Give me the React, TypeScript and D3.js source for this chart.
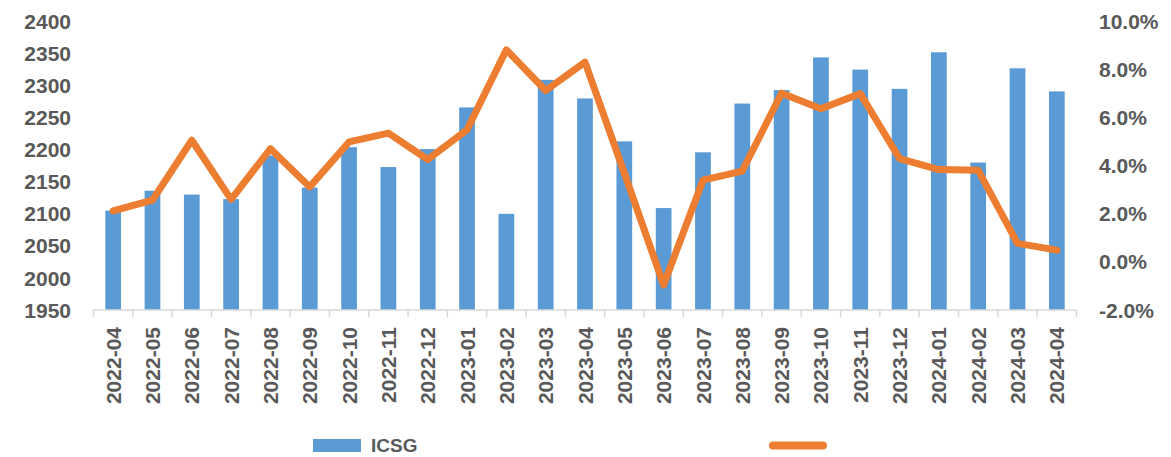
import React from "react";
import * as d3 from "d3";

const categories = [
  "2022-04","2022-05","2022-06","2022-07","2022-08","2022-09","2022-10","2022-11","2022-12",
  "2023-01","2023-02","2023-03","2023-04","2023-05","2023-06","2023-07","2023-08","2023-09",
  "2023-10","2023-11","2023-12","2024-01","2024-02","2024-03","2024-04",
];
const icsgValues = [
  2105, 2136, 2130, 2123, 2191, 2141, 2204, 2173, 2201,
  2266, 2100, 2309, 2280, 2213, 2109, 2196, 2272, 2293,
  2344, 2325, 2295, 2352, 2180, 2327, 2291,
];
const growthValues = [
  2.12, 2.57, 5.06, 2.6, 4.71, 3.12, 4.99, 5.36, 4.26,
  5.5, 8.82, 7.13, 8.31, 3.7, -0.96, 3.4, 3.78, 7.02,
  6.37, 7.0, 4.3, 3.84, 3.81, 0.77, 0.49,
];
const leftTicks = [1950, 2000, 2050, 2100, 2150, 2200, 2250, 2300, 2350, 2400];
const rightTicks = [-2, 0, 2, 4, 6, 8, 10];
const barLegendLabel = "ICSG";
const lineLegendLabel = "";

const W = 1171;
const H = 457;
const FONT = "'Liberation Sans', Arial, sans-serif";
const TEXT = "#595959";
const BLUE = "#5B9BD5";
const ORANGE = "#ED7D31";

export default function App() {
  const top = 21.5;
  const bottom = 310;
  const x = d3
    .scaleBand<string>()
    .domain(categories)
    .range([93.5, 1076.5])
    .paddingInner(0.6)
    .paddingOuter(0.3);
  const yL = d3.scaleLinear().domain([1950, 2400]).range([bottom, top]);
  const yR = d3.scaleLinear().domain([-2, 10]).range([bottom, top]);
  const step = x.step();
  const cx = (c: string) => (x(c) as number) + x.bandwidth() / 2;

  const line = d3
    .line<number>()
    .x((_, i) => cx(categories[i]))
    .y((d) => yR(d));

  const boundaries = d3.range(categories.length + 1).map((i) => 93.5 + i * step);

  return (
    <svg
      width={W}
      height={H}
      style={{ position: "absolute", left: 0, top: 0, background: "#fff" }}
      fontFamily={FONT}
    >
      {categories.map((c, i) => (
        <rect
          key={c}
          x={x(c)}
          y={yL(icsgValues[i])}
          width={x.bandwidth()}
          height={bottom - yL(icsgValues[i])}
          fill={BLUE}
        />
      ))}
      <line x1={93.5} x2={1076.5} y1={bottom} y2={bottom} stroke="#d9d9d9" strokeWidth={1.5} />
      {boundaries.map((bx, i) => (
        <line key={i} x1={bx} x2={bx} y1={bottom} y2={bottom + 7} stroke="#d9d9d9" strokeWidth={1.5} />
      ))}
      <path
        d={line(growthValues) || ""}
        fill="none"
        stroke={ORANGE}
        strokeWidth={7}
        strokeLinejoin="round"
        strokeLinecap="round"
      />
      {leftTicks.map((t) => (
        <text
          key={t}
          x={71}
          y={yL(t)}
          dy="0.36em"
          textAnchor="end"
          fontSize={21}
          fontWeight="bold"
          fill={TEXT}
        >
          {t}
        </text>
      ))}
      {rightTicks.map((t) => (
        <text
          key={t}
          x={1099}
          y={yR(t)}
          dy="0.36em"
          textAnchor="start"
          fontSize={21}
          fontWeight="bold"
          fill={TEXT}
        >
          {t.toFixed(1) + "%"}
        </text>
      ))}
      {categories.map((c) => (
        <text
          key={c}
          transform={`translate(${cx(c)},327) rotate(-90)`}
          dy="0.36em"
          textAnchor="end"
          fontSize={21}
          fontWeight="bold"
          fill={TEXT}
        >
          {c}
        </text>
      ))}
      <rect x={313} y={439} width={48} height={13} fill={BLUE} />
      <text x={371} y={452} fontSize={19} fontWeight="bold" fill={TEXT}>
        {barLegendLabel}
      </text>
      <line x1={773} x2={823} y1={445.5} y2={445.5} stroke={ORANGE} strokeWidth={8} strokeLinecap="round" />
      <text x={833} y={452} fontSize={19} fontWeight="bold" fill={TEXT}>
        {lineLegendLabel}
      </text>
    </svg>
  );
}
